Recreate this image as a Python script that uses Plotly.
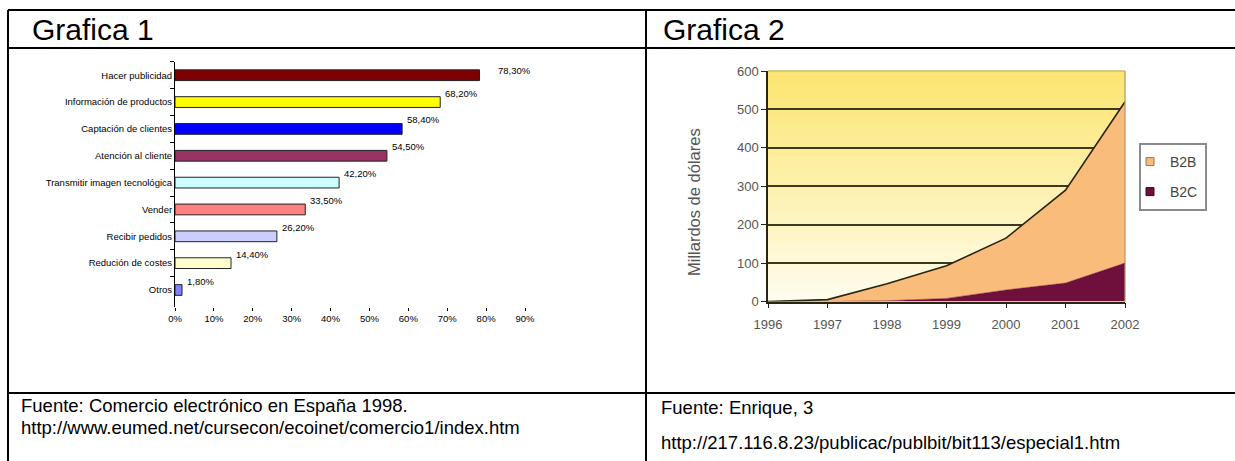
import plotly.graph_objects as go

W, H = 1235, 461
FONT = "Arial, 'Liberation Sans', sans-serif"

# ---------------- Data ----------------
# Grafica 1
uses = ["Hacer publicidad", "Información de productos", "Captación de clientes",
        "Atención al cliente", "Transmitir imagen tecnológica", "Vender",
        "Recibir pedidos", "Redución de costes", "Otros"]
use_pct = [78.3, 68.2, 58.4, 54.5, 42.2, 33.5, 26.2, 14.4, 1.8]
bar_colors = ["#800000", "#FFFF00", "#0000FF", "#993366", "#CCFFFF",
              "#FF8080", "#CCCCFF", "#FFFFCC", "#8080FF"]
pct_ticks = [0, 10, 20, 30, 40, 50, 60, 70, 80, 90]
pct_tick_labels = [f"{v}%" for v in pct_ticks]

# Grafica 2
years = [1996, 1997, 1998, 1999, 2000, 2001, 2002]
b2c = [0, 0, 2, 8, 30, 48, 100]
b2b = [0, 5, 44, 85, 135, 242, 420]
val_ticks = [0, 100, 200, 300, 400, 500, 600]
B2B_COLOR = "#F9BC7B"
B2C_COLOR = "#6E0F3C"


def px(x):
    return x / W


def py(y):
    return 1 - y / H


fig = go.Figure()

# ---------------- Grafica 1: horizontal bars ----------------
fig.add_trace(go.Bar(
    x=use_pct, y=uses, orientation="h",
    marker=dict(color=bar_colors, line=dict(color="#222222", width=1)),
    xaxis="x", yaxis="y", showlegend=False, hoverinfo="x+y",
))

for i, (cat, v) in enumerate(zip(uses, use_pct)):
    fig.add_annotation(
        x=v, y=cat, xref="x", yref="y",
        text=f"{v:.2f}".replace(".", ",") + "%",
        showarrow=False, xanchor="left", yanchor="middle",
        xshift=16 if i == 0 else 3, yshift=5 if i == 0 else 9,
        font=dict(family=FONT, size=9.5, color="#000000"),
    )

# ---------------- Grafica 2: stacked areas ----------------
# gradient plot background (style only)
n_bands = 60
top_rgb = (252, 229, 110)
bot_rgb = (255, 253, 238)
for k in range(n_bands):
    t = (k + 0.5) / n_bands
    r = int(bot_rgb[0] + (top_rgb[0] - bot_rgb[0]) * t)
    g = int(bot_rgb[1] + (top_rgb[1] - bot_rgb[1]) * t)
    b = int(bot_rgb[2] + (top_rgb[2] - bot_rgb[2]) * t)
    fig.add_shape(type="rect", xref="x2 domain", yref="y2 domain",
                  x0=0, x1=1, y0=k / n_bands, y1=(k + 1) / n_bands + 0.002,
                  fillcolor=f"rgb({r},{g},{b})", line=dict(width=0), layer="below")

fig.add_trace(go.Scatter(
    x=years, y=b2c, name="B2C", mode="lines", stackgroup="s",
    line=dict(color=B2C_COLOR, width=0.5), fillcolor=B2C_COLOR,
    xaxis="x2", yaxis="y2", showlegend=False,
))
fig.add_trace(go.Scatter(
    x=years, y=b2b, name="B2B", mode="lines", stackgroup="s",
    line=dict(color="#2a2510", width=1.6), fillcolor=B2B_COLOR,
    xaxis="x2", yaxis="y2", showlegend=False,
))

# legend entries (square keys, as in the original legend)
fig.add_trace(go.Scatter(
    x=[None], y=[None], name="B2B", mode="markers",
    marker=dict(symbol="square", size=8, color=B2B_COLOR,
                line=dict(color="#8a7a6a", width=1)),
    xaxis="x2", yaxis="y2", legend="legend", showlegend=True,
))
fig.add_trace(go.Scatter(
    x=[None], y=[None], name="B2C", mode="markers",
    marker=dict(symbol="square", size=8, color=B2C_COLOR,
                line=dict(color="#3a0a20", width=1)),
    xaxis="x2", yaxis="y2", legend="legend2", showlegend=True,
))

# light plot-area frame at top and right
fig.add_shape(type="line", xref="x2 domain", yref="y2 domain", x0=0, x1=1, y0=1, y1=1,
              line=dict(color="#cdbb85", width=1.5), layer="above")
fig.add_shape(type="line", xref="x2 domain", yref="y2 domain", x0=1, x1=1, y0=0, y1=1,
              line=dict(color="#b0946a", width=1.2), layer="above")

# legend frame
fig.add_shape(type="rect", xref="paper", yref="paper",
              x0=px(1140), x1=px(1206), y0=py(210), y1=py(144),
              line=dict(color="#8a8a8a", width=2), fillcolor="white", layer="below")

# ---------------- Table lines ----------------
LINE = dict(color="#000000", width=2)
for (x0, y0, x1, y1) in [
    (8, 10, W + 5, 10),      # top border
    (8, 48, W + 5, 48),      # header bottom
    (8, 393, W + 5, 393),    # footer top
    (8, 10, 8, H + 5),       # left border
    (646, 10, 646, H + 5),   # column divider
]:
    fig.add_shape(type="line", xref="paper", yref="paper",
                  x0=px(x0), y0=py(y0), x1=px(x1), y1=py(y1), line=LINE)

# ---------------- Texts ----------------
def text(x, y, s, size, color="#000000", xanchor="left", angle=0):
    fig.add_annotation(x=px(x), y=py(y), xref="paper", yref="paper", text=s,
                       showarrow=False, xanchor=xanchor, yanchor="middle",
                       textangle=angle, borderpad=0,
                       font=dict(family=FONT, size=size, color=color))

text(31, 30, "Grafica 1", 30)
text(662, 30, "Grafica 2", 30)
text(20, 405, "Fuente: Comercio electrónico en España 1998.", 18.5)
text(20, 427, "http://www.eumed.net/cursecon/ecoinet/comercio1/index.htm", 18.5)
text(660, 407, "Fuente: Enrique, 3", 18.5)
text(660, 442, "http://217.116.8.23/publicac/publbit/bit113/especial1.htm", 18.5)
text(694, 202, "Millardos de dólares", 16.5, color="#555555", xanchor="center", angle=-90)

LEG = dict(xanchor="left", yanchor="middle", bgcolor="rgba(0,0,0,0)",
           borderwidth=0, font=dict(family=FONT, size=14, color="#444444"),
           itemwidth=30, tracegroupgap=0)

# ---------------- Layout ----------------
fig.update_layout(
    template="none",
    width=W, height=H,
    margin=dict(l=0, r=0, t=0, b=0, pad=0, autoexpand=False),
    paper_bgcolor="white", plot_bgcolor="rgba(0,0,0,0)",
    font=dict(family=FONT, color="#000000"),
    bargap=0.6,
    showlegend=True,
    xaxis=dict(domain=[px(175), px(525)], range=[0, 90],
               tickmode="array", tickvals=pct_ticks, ticktext=pct_tick_labels,
               showgrid=False, zeroline=False,
               showline=False, ticks="outside", ticklen=3, tickcolor="#000",
               tickfont=dict(family=FONT, size=9.5, color="#000"),
               anchor="y", fixedrange=True, automargin=False),
    yaxis=dict(domain=[py(306.5), py(61.8)], categoryorder="array",
               categoryarray=uses, autorange="reversed",
               showgrid=False, zeroline=False, showline=True, linecolor="#000",
               linewidth=1, ticks="outside", ticklen=4, tickcolor="#000",
               tickson="boundaries",
               tickfont=dict(family=FONT, size=9.5, color="#000"),
               anchor="x", fixedrange=True, automargin=False),
    xaxis2=dict(domain=[px(768), px(1125)], range=[1996, 2002],
                tickmode="array", tickvals=years, showgrid=False, zeroline=False,
                showline=True, linecolor="#2a2510", linewidth=1.5,
                ticks="outside", ticklen=5, tickcolor="#2a2510",
                ticklabelstandoff=5,
                tickfont=dict(family=FONT, size=13, color="#555555"),
                anchor="y2", fixedrange=True, automargin=False),
    yaxis2=dict(domain=[py(301.5), py(71)], range=[0, 600],
                tickmode="array", tickvals=val_ticks, showgrid=True,
                gridcolor="#3d3820", gridwidth=1.5, zeroline=False,
                showline=True, linecolor="#2a2510", linewidth=1.5,
                ticks="outside", ticklen=5, tickcolor="#2a2510",
                tickfont=dict(family=FONT, size=13, color="#555555"),
                anchor="x2", fixedrange=True, automargin=False),
    legend=dict(x=px(1130), y=py(162), **LEG),
    legend2=dict(x=px(1130), y=py(192), **LEG),
)

fig.write_html("out.html")
